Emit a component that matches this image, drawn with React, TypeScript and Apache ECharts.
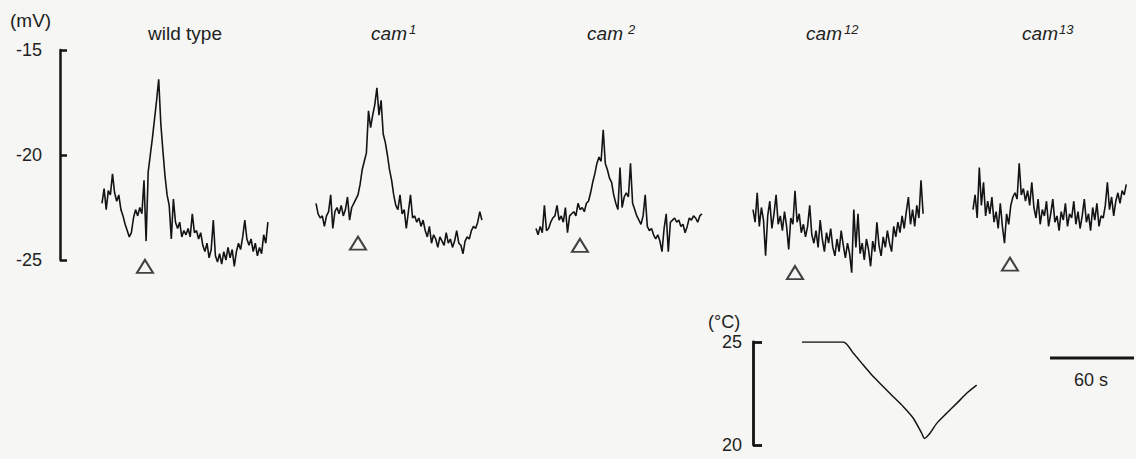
import React, { useEffect, useRef } from "react";
import * as echarts from "echarts";

// Sampling of the membrane-potential records
const DT = 1.5; // seconds between samples
const PX_PER_S = 1.4; // horizontal scale shared by every record

// Membrane potential (mV), one record per strain
const wildType = [
  -22.3, -21.6, -22.6, -21.7, -21.9, -20.9, -21.8, -22.2, -21.9, -22.6,
  -22.9, -23.3, -23.6, -23.9, -23.7, -23.0, -22.6, -22.9, -22.5, -22.8,
  -21.2, -24.1, -20.8, -20.0, -19.2, -18.3, -17.4, -16.4, -18.5, -19.8,
  -21.0, -21.9, -22.4, -24.0, -22.1, -23.2, -23.5, -23.2, -23.9, -23.6,
  -23.8, -23.5, -23.9, -22.8, -23.7, -23.6, -24.0, -23.7, -24.3, -24.6,
  -24.2, -24.9, -24.5, -23.1, -24.8, -25.1, -24.7, -25.2, -24.6, -25.0,
  -24.4, -24.9, -24.5, -25.3, -24.6, -24.2, -24.5, -23.9, -23.1, -24.0,
  -24.3, -24.0, -24.6, -24.2, -24.8, -24.4, -24.7, -23.8, -24.2, -23.2,
];
const cam1 = [
  -22.3, -22.8, -23.0, -22.9, -23.4, -22.9, -22.7, -21.9, -23.5, -22.7,
  -22.5, -22.8, -22.4, -22.9, -22.6, -22.0, -23.1, -22.5, -22.3, -22.1,
  -21.9, -21.4, -20.7, -20.3, -19.9, -17.9, -18.7, -18.1, -17.6, -16.8,
  -18.1, -17.4, -19.0, -19.4, -20.0, -20.7, -21.2, -21.9, -22.4, -22.6,
  -21.9, -22.8, -22.6, -23.5, -22.7, -21.9, -23.0, -22.9, -23.2, -23.0,
  -23.4, -23.1, -23.6, -23.9, -23.4, -24.2, -23.8, -24.0, -24.4, -23.9,
  -24.1, -24.3, -23.7, -24.2, -24.0, -24.4, -24.1, -23.6, -24.2, -24.3,
  -24.7, -24.1, -23.9, -24.0, -23.6, -23.4, -23.5, -23.2, -22.7, -23.1,
];
const cam2 = [
  -23.5, -23.8, -23.4, -23.7, -22.4, -23.6, -23.5, -23.2, -23.0, -22.9,
  -22.4, -23.1, -22.9, -23.2, -22.5, -23.7, -22.9, -22.8, -22.7, -22.9,
  -22.3, -22.6, -22.5, -22.7, -22.3, -22.2, -21.8, -21.3, -20.9, -20.4,
  -20.1, -20.3, -18.8, -20.4, -20.7, -21.1, -21.3, -21.9, -22.3, -22.6,
  -20.6, -22.5, -22.0, -21.8, -22.0, -20.4, -22.3, -22.6, -22.9, -23.1,
  -23.3, -22.9, -21.9, -23.4, -23.6, -23.5, -23.8, -24.0, -23.8, -24.1,
  -24.6, -23.5, -22.8, -24.6, -23.2, -23.1, -23.0, -23.2, -23.1, -23.4,
  -23.3, -23.7, -23.4, -23.0, -23.1, -22.9, -23.0, -23.2, -22.9, -22.8,
];
const cam12 = [
  -22.6, -23.2, -21.8, -23.4, -22.5, -23.1, -24.8, -22.9, -22.2, -23.5,
  -22.8, -21.9, -23.3, -22.9, -23.6, -22.7, -23.4, -24.5, -23.0, -23.3,
  -21.7, -23.2, -22.8, -23.7, -23.3, -23.9, -23.4, -22.4, -23.8, -24.2,
  -23.6, -24.4, -23.1, -24.0, -24.6, -23.7, -24.2, -23.5, -24.4, -24.8,
  -24.0, -24.6, -23.6, -24.3, -24.9, -24.2, -24.7, -25.6, -22.6, -24.4,
  -22.8, -24.7, -24.2, -25.0, -24.0, -24.5, -25.3, -24.1, -24.6, -23.2,
  -24.3, -24.8, -23.9, -24.4, -23.6, -24.2, -24.6, -23.4, -23.9, -23.2,
  -23.7, -22.9, -23.5, -22.7, -22.0, -23.3, -22.6, -23.4, -22.4, -23.0,
  -21.2, -22.8,
];
const cam13 = [
  -22.6, -21.9, -23.0, -20.6, -22.4, -21.3, -22.9, -22.2, -22.8, -22.0,
  -23.2, -22.7, -23.5, -22.3, -23.4, -24.2, -22.8, -23.3, -22.4, -22.0,
  -21.8, -22.1, -20.4, -21.9, -21.6, -22.2, -21.7, -22.4, -21.3, -22.5,
  -23.0, -22.1, -23.3, -22.6, -22.9, -22.2, -23.4, -22.8, -22.1, -23.2,
  -22.9, -23.6, -22.7, -23.1, -22.3, -23.4, -22.8, -23.0, -22.2, -23.3,
  -22.7, -23.5, -22.9, -22.1, -23.2, -22.8, -23.6, -22.5, -23.1, -22.3,
  -23.4, -22.9, -23.0, -22.4, -21.3, -22.6, -22.0, -22.9, -22.2, -21.8,
  -22.3, -21.7, -21.9, -21.4,
];

const records = [wildType, cam1, cam2, cam12, cam13];
const strainNames = ["wild type", "cam", "cam", "cam", "cam"];
const alleleNumbers = ["", "1", "2", "12", "13"];

// Onset of the cooling stimulus (s from record start) and the level the marker sits at (mV)
const stimulusTimes = [30.7, 30, 31.4, 30, 26.4];
const markerLevels = [-25.3, -24.2, -24.3, -25.6, -25.2];

// Voltage axis
const MV_MIN = -25;
const MV_MAX = -15;
const MV_STEP = 5;

// Bath temperature during the stimulus
const tempTimes = [0, 29.5, 36.7, 43.8, 50.9, 58.1, 65.2, 72.4, 79.5, 85.5, 87.4, 91.4, 96.2, 103.3, 110.5, 117.6, 124.8];
const tempValues = [25, 25, 24.45, 23.88, 23.32, 22.83, 22.34, 21.86, 21.3, 20.57, 20.32, 20.57, 21.05, 21.54, 22.02, 22.51, 22.91];
const TEMP_MIN = 20;
const TEMP_MAX = 25;

const scaleBarSeconds = 60;

// ---- layout ----
const INK = "#141414";
const TEXT_INK = "#222";
const FONT = "'Liberation Sans', Arial, Helvetica, sans-serif";
const MV_TOP = 50;
const MV_PX = 21; // pixels per mV
const RECORD_LEFT = [102, 316, 536, 753, 973];
const RECORD_FLOOR = -27;
const TITLE_CENTER = [185, 0, 0, 0, 0];
const CAM_END = [0, 407, 623, 842, 1058];
const SUP_START = [0, 409, 628, 844, 1059];
const TEMP_TOP = 342;
const TEMP_PX = 20.6;

function buildOption() {
  const grid: any[] = [];
  const xAxis: any[] = [];
  const yAxis: any[] = [];
  const series: any[] = [];
  const hidden = { show: false };

  const addGrid = (g: any, x: any, y: any) => {
    grid.push({ containLabel: false, outerBoundsMode: "none", ...g });
    xAxis.push({ gridIndex: grid.length - 1, type: "value", ...x });
    yAxis.push({ gridIndex: grid.length - 1, type: "value", splitLine: { show: false }, ...y });
    return grid.length - 1;
  };

  // voltage bracket
  addGrid(
    { left: 60, top: MV_TOP, width: 1, height: (MV_MAX - MV_MIN) * MV_PX },
    { ...hidden, min: 0, max: 1 },
    {
      min: MV_MIN,
      max: MV_MAX,
      interval: MV_STEP,
      position: "left",
      axisLine: { show: true, lineStyle: { color: INK, width: 2.5 } },
      axisTick: { show: true, inside: true, length: 7, lineStyle: { color: INK, width: 2.5 } },
      axisLabel: { color: TEXT_INK, fontSize: 18, fontFamily: FONT, margin: 18 },
    }
  );

  // one panel per strain
  records.forEach((vals, i) => {
    const span = (vals.length - 1) * DT;
    const gi = addGrid(
      { left: RECORD_LEFT[i], top: MV_TOP, width: span * PX_PER_S, height: (MV_MAX - RECORD_FLOOR) * MV_PX },
      { ...hidden, min: 0, max: span },
      { ...hidden, min: RECORD_FLOOR, max: MV_MAX }
    );
    series.push({
      type: "line",
      xAxisIndex: gi,
      yAxisIndex: gi,
      data: vals.map((v, k) => [k * DT, v]),
      symbol: "none",
      silent: true,
      lineStyle: { color: INK, width: 1.6 },
    });
    series.push({
      type: "scatter",
      xAxisIndex: gi,
      yAxisIndex: gi,
      data: [[stimulusTimes[i], markerLevels[i]]],
      symbol: "triangle",
      symbolSize: [16, 13],
      silent: true,
      itemStyle: { color: "rgba(0,0,0,0)", borderColor: INK, borderWidth: 2 },
    });
  });

  // temperature bracket
  addGrid(
    { left: 753, top: TEMP_TOP, width: 1, height: (TEMP_MAX - TEMP_MIN) * TEMP_PX },
    { ...hidden, min: 0, max: 1 },
    {
      min: TEMP_MIN,
      max: TEMP_MAX,
      interval: TEMP_MAX - TEMP_MIN,
      position: "left",
      axisLine: { show: true, lineStyle: { color: INK, width: 2.8 } },
      axisTick: { show: true, inside: true, length: 9, lineStyle: { color: INK, width: 2.8 } },
      axisLabel: { color: TEXT_INK, fontSize: 18, fontFamily: FONT, margin: 11 },
    }
  );

  // temperature record
  const tSpan = 125;
  const tg = addGrid(
    { left: 802, top: TEMP_TOP, width: tSpan * PX_PER_S, height: (TEMP_MAX - TEMP_MIN) * TEMP_PX },
    { ...hidden, min: 0, max: tSpan },
    { ...hidden, min: TEMP_MIN, max: TEMP_MAX }
  );
  series.push({
    type: "line",
    xAxisIndex: tg,
    yAxisIndex: tg,
    data: tempTimes.map((t, k) => [t, tempValues[k]]),
    symbol: "none",
    smooth: 0.25,
    silent: true,
    lineStyle: { color: INK, width: 1.5 },
  });

  // time scale bar
  const sg = addGrid(
    { left: 1050, top: 348, width: scaleBarSeconds * PX_PER_S, height: 20 },
    { ...hidden, min: 0, max: scaleBarSeconds },
    { ...hidden, min: -1, max: 1 }
  );
  series.push({
    type: "line",
    xAxisIndex: sg,
    yAxisIndex: sg,
    data: [[0, 0], [scaleBarSeconds, 0]],
    symbol: "none",
    silent: true,
    lineStyle: { color: INK, width: 3.2 },
  });

  const text = (x: number, y: number, str: string, size: number, align: string, italic = false) => ({
    type: "text",
    x,
    y,
    silent: true,
    style: {
      text: str,
      fill: TEXT_INK,
      fontSize: size,
      fontFamily: FONT,
      fontStyle: italic ? "italic" : "normal",
      align,
      textAlign: align,
      verticalAlign: "middle",
      textVerticalAlign: "middle",
    },
  });

  const graphic: any[] = [
    text(10, 20, "(mV)", 19, "left"),
    text(708, 322, "(°C)", 18, "left"),
    text(1091, 380, `${scaleBarSeconds} s`, 18, "center"),
  ];
  strainNames.forEach((name, i) => {
    if (!alleleNumbers[i]) {
      graphic.push(text(TITLE_CENTER[i], 33, name, 19, "center"));
    } else {
      graphic.push(text(CAM_END[i], 33, name, 19, "right", true));
      graphic.push(text(SUP_START[i], 29, alleleNumbers[i], 13, "left", true));
    }
  });

  return {
    animation: false,
    backgroundColor: "#f6f6f4",
    grid,
    xAxis,
    yAxis,
    series,
    graphic,
  };
}

export default function App() {
  const ref = useRef<HTMLDivElement>(null);
  useEffect(() => {
    if (!ref.current) return;
    const chart = echarts.init(ref.current, undefined, { renderer: "svg" });
    chart.setOption(buildOption());
    return () => chart.dispose();
  }, []);
  return (
    <div
      ref={ref}
      style={{ position: "fixed", left: 0, top: 0, width: 1136, height: 459 }}
    />
  );
}
